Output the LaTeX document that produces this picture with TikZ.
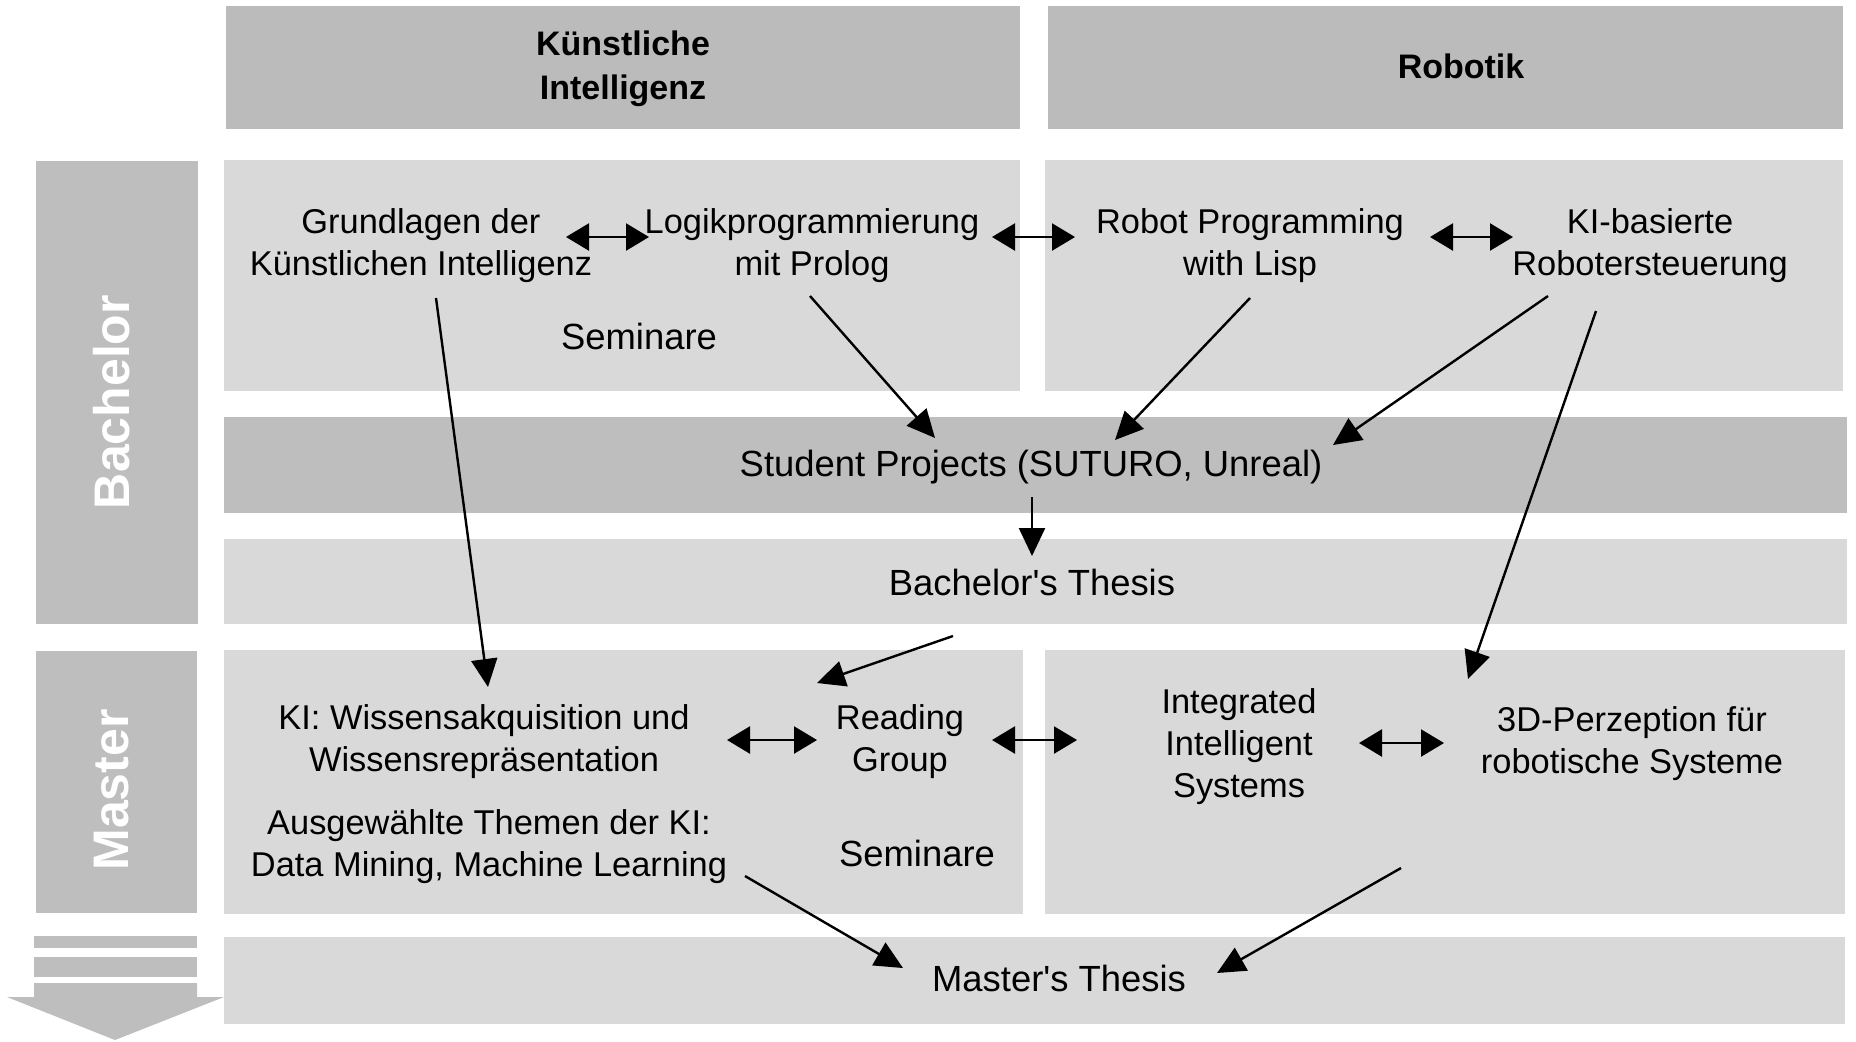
\documentclass[tikz,border=0pt]{standalone}
\usepackage{fontspec}
\setmainfont{Liberation Sans}
\usetikzlibrary{arrows.meta}
\definecolor{hdr}{HTML}{BBBBBB}
\definecolor{lite}{HTML}{D9D9D9}
\definecolor{mid}{HTML}{BEBEBE}
\begin{document}
\begin{tikzpicture}[x=0.5pt,y=-0.5pt,
 txt/.style={align=center, font=\fontsize{17.2}{21}\selectfont, inner sep=0pt},
 bigtxt/.style={align=center, font=\fontsize{18.2}{21}\selectfont, inner sep=0pt},
 hdrtxt/.style={align=center, font=\fontsize{17}{22}\selectfont\bfseries, inner sep=0pt},
 sidetxt/.style={font=\fontsize{25}{30}\selectfont\bfseries, text=white, rotate=90, inner sep=0pt},
 conn/.style={line width=1.2pt, -{Triangle[length=14pt,width=13pt]}},
 dbl/.style={line width=1.2pt, {Triangle[length=11.5pt,width=13.5pt]}-{Triangle[length=11.5pt,width=13.5pt]}},
]
\useasboundingbox (0,0) rectangle (1856,1041);
% boxes
\fill[hdr] (226,6) rectangle (1020,129);
\fill[hdr] (1048,6) rectangle (1843,129);
\fill[mid] (36,161) rectangle (198,624);
\fill[mid] (36,651) rectangle (197,913);
\fill[lite] (224,160) rectangle (1020,391);
\fill[lite] (1045,160) rectangle (1843,391);
\fill[mid] (224,417) rectangle (1847,513);
\fill[lite] (224,539) rectangle (1847,624);
\fill[lite] (224,650) rectangle (1023,914);
\fill[lite] (1045,650) rectangle (1845,914);
\fill[lite] (224,937) rectangle (1845,1024);
% bottom arrow
\fill[mid] (34,936) rectangle (197,948);
\fill[mid] (34,957) rectangle (197,977);
\fill[mid] (34,983) -- (197,983) -- (197,997) -- (224,997) -- (115,1040) -- (7,997) -- (34,997) -- cycle;
% texts
\node[hdrtxt] (hki) at (623,69) {Künstliche\\Intelligenz};
\node[hdrtxt] (hrob) at (1461,66) {Robotik};
\node[sidetxt] (bach) at (112,402) {Bachelor};
\node[sidetxt] (mast) at (112,790) {Master};
\node[txt] (grund) at (421,246) {Grundlagen der\\Künstlichen Intelligenz};
\node[txt] (logik) at (812,246) {Logikprogrammierung\\mit Prolog};
\node[txt] (lisp) at (1250,246) {Robot Programming\\with Lisp};
\node[txt] (kibas) at (1650,246) {KI-basierte\\Robotersteuerung};
\node[bigtxt] (sem1) at (639,336) {Seminare};
\node[bigtxt] (stud) at (1031,467) {Student Projects (SUTURO, Unreal)};
\node[bigtxt] (bthes) at (1032,582) {Bachelor\textquotesingle s Thesis};
\node[txt] (wiss) at (484,742) {KI: Wissensakquisition und\\Wissensrepräsentation};
\node[txt] (read) at (900,742) {Reading\\Group};
\node[txt] (iis) at (1239,747) {Integrated\\Intelligent\\Systems};
\node[txt] (perz) at (1632,744) {3D-Perzeption für\\robotische Systeme};
\node[txt] (ausg) at (489,847) {Ausgewählte Themen der KI:\\Data Mining, Machine Learning};
\node[bigtxt] (sem2) at (917,853) {Seminare};
\node[bigtxt] (mthes) at (1059,978) {Master\textquotesingle s Thesis};
% connector end points
\coordinate (d1a) at (566,237); \coordinate (d1b) at (649,237);
\coordinate (d2a) at (992,237); \coordinate (d2b) at (1075,237);
\coordinate (d3a) at (1430,237); \coordinate (d3b) at (1513,237);
\coordinate (d4a) at (727,740); \coordinate (d4b) at (817,740);
\coordinate (d5a) at (992,740); \coordinate (d5b) at (1077,740);
\coordinate (d6a) at (1359,743); \coordinate (d6b) at (1444,743);
\coordinate (a1s) at (436,298); \coordinate (a1e) at (488,687);
\coordinate (a2s) at (810,296); \coordinate (a2e) at (935,438);
\coordinate (a3s) at (1250,298); \coordinate (a3e) at (1115,440);
\coordinate (a4s) at (1548,296); \coordinate (a4e) at (1333,445);
\coordinate (a5s) at (1596,311); \coordinate (a5e) at (1468,679);
\coordinate (a6s) at (1032,497); \coordinate (a6e) at (1032,556);
\coordinate (a7s) at (953,636); \coordinate (a7e) at (817,683);
\coordinate (a8s) at (745,876); \coordinate (a8e) at (903,968);
\coordinate (a9s) at (1401,868); \coordinate (a9e) at (1217,973);
% connectors
\foreach \n in {1,...,6} \draw[dbl] (d\n a) -- (d\n b);
\foreach \n in {1,...,9} \draw[conn] (a\n s) -- (a\n e);
\end{tikzpicture}
\end{document}
